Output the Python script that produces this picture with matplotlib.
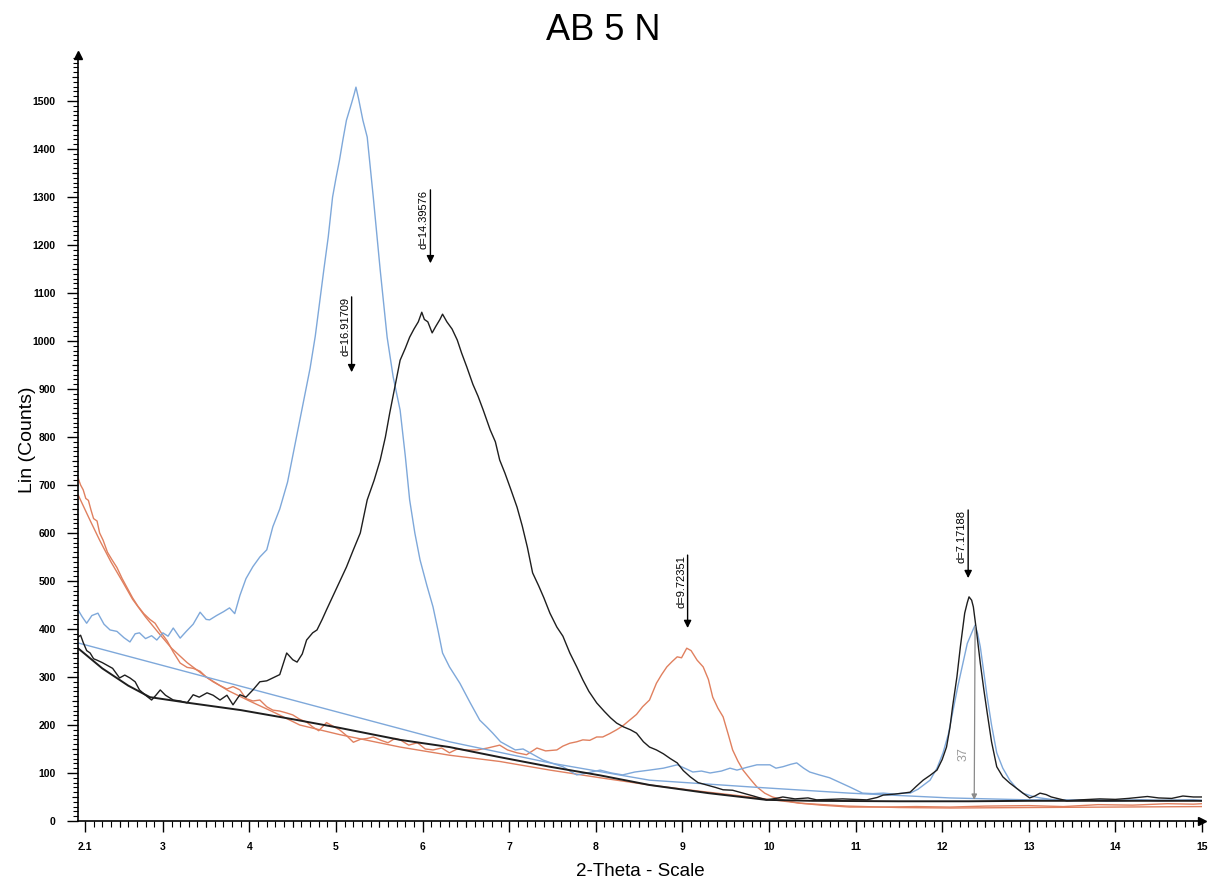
import matplotlib
matplotlib.use('Agg')
import matplotlib.pyplot as plt
import numpy as np

plt.rcParams['font.family'] = ['Liberation Sans', 'DejaVu Sans']

# sample scans (2-theta, counts)
blue_x = [2.02, 2.07, 2.12, 2.18, 2.25, 2.32, 2.39, 2.47, 2.55, 2.62,
          2.68, 2.73, 2.80, 2.87, 2.93, 3.00, 3.06, 3.12, 3.20, 3.27,
          3.35, 3.43, 3.50, 3.54, 3.62, 3.70, 3.77, 3.83, 3.89, 3.96,
          4.04, 4.12, 4.20, 4.27, 4.35, 4.44, 4.51, 4.58, 4.64, 4.70,
          4.76, 4.81, 4.86, 4.91, 4.96, 5.00, 5.04, 5.08, 5.12, 5.18,
          5.21, 5.23, 5.26, 5.31, 5.36, 5.43, 5.51, 5.59, 5.66, 5.74,
          5.80, 5.85, 5.91, 5.97, 6.05, 6.12, 6.18, 6.23, 6.31, 6.43,
          6.55, 6.66, 6.74, 6.81, 6.90, 6.97, 7.07, 7.16, 7.28, 7.39,
          7.50, 7.62, 7.70, 7.78, 7.90, 8.05, 8.18, 8.31, 8.45, 8.62,
          8.78, 8.94, 9.05, 9.12, 9.22, 9.32, 9.45, 9.55, 9.63, 9.75,
          9.86, 10.01, 10.08, 10.16, 10.25, 10.32, 10.40, 10.47, 10.58, 10.70,
          10.82, 10.93, 11.08, 11.20, 11.32, 11.45, 11.55, 11.63, 11.72, 11.86,
          11.94, 12.01, 12.07, 12.12, 12.18, 12.24, 12.29, 12.32, 12.36, 12.38,
          12.41, 12.44, 12.48, 12.52, 12.57, 12.63, 12.70, 12.78, 12.86, 12.93,
          13.03, 13.13, 13.3, 13.5, 13.7, 13.9, 14.1, 14.3, 14.5, 14.7,
          14.9, 15.0]
blue_y = [440, 425, 412, 428, 433, 410, 398, 395, 382, 373,
          390, 392, 380, 386, 377, 392, 385, 402, 381, 395,
          410, 435, 420, 419, 428, 436, 444, 432, 470, 505,
          530, 550, 565, 613, 650, 706, 770, 835, 890, 943,
          1010, 1080, 1150, 1217, 1300, 1340, 1377, 1420, 1460, 1496,
          1515, 1529, 1505, 1460, 1425, 1300, 1148, 1008, 925, 856,
          760, 669, 600, 544, 490, 446, 395, 350, 321, 287,
          246, 210, 196, 183, 165, 158, 148, 150, 138, 127,
          120, 113, 104, 96, 100, 106, 100, 96, 102, 106,
          110, 117, 108, 102, 104, 100, 104, 110, 106, 112,
          117, 117, 110, 113, 118, 121, 110, 102, 96, 90,
          80, 71, 58, 57, 58, 56, 58, 58, 66, 85,
          110, 142, 180, 225, 280, 329, 370, 383, 400, 408,
          390, 363, 310, 258, 200, 142, 110, 85, 68, 58,
          52, 48, 44, 42, 43, 41, 42, 44, 42, 43,
          44, 42]

black_x = [2.02, 2.05, 2.08, 2.12, 2.16, 2.20, 2.24, 2.30, 2.35, 2.42,
           2.50, 2.56, 2.62, 2.68, 2.73, 2.80, 2.87, 2.92, 2.97, 3.03,
           3.12, 3.20, 3.28, 3.35, 3.42, 3.51, 3.58, 3.66, 3.74, 3.81,
           3.89, 3.96, 4.04, 4.12, 4.20, 4.27, 4.35, 4.43, 4.50, 4.55,
           4.61, 4.66, 4.73, 4.78, 4.84, 4.89, 4.96, 5.04, 5.12, 5.20,
           5.28, 5.36, 5.44, 5.51, 5.57, 5.62, 5.68, 5.74, 5.80, 5.85,
           5.90, 5.95, 5.99, 6.02, 6.06, 6.11, 6.15, 6.20, 6.23, 6.28,
           6.34, 6.40, 6.45, 6.51, 6.58, 6.64, 6.70, 6.78, 6.84, 6.89,
           6.95, 7.02, 7.09, 7.15, 7.21, 7.27, 7.34, 7.40, 7.47, 7.55,
           7.62, 7.70, 7.78, 7.85, 7.92, 8.01, 8.10, 8.17, 8.24, 8.32,
           8.40, 8.47, 8.55, 8.62, 8.70, 8.78, 8.86, 8.94, 9.01, 9.09,
           9.18, 9.28, 9.38, 9.47, 9.58, 9.70, 9.82, 9.97, 10.08, 10.16,
           10.30, 10.45, 10.55, 10.70, 10.85, 11.00, 11.13, 11.25, 11.32, 11.45,
           11.55, 11.63, 11.70, 11.78, 11.86, 11.94, 12.00, 12.05, 12.09, 12.12,
           12.17, 12.21, 12.24, 12.26, 12.29, 12.31, 12.34, 12.36, 12.40, 12.44,
           12.48, 12.52, 12.57, 12.63, 12.70, 12.78, 12.86, 12.94, 13.01, 13.07,
           13.13, 13.20, 13.26, 13.35, 13.44, 13.60, 13.82, 14.00, 14.15, 14.37,
           14.50, 14.65, 14.78, 14.90, 15.00]
black_y = [383, 387, 372, 355, 350, 338, 335, 330, 325, 318,
           298, 304, 298, 290, 273, 262, 252, 262, 273, 262,
           252, 250, 246, 263, 258, 267, 262, 252, 262, 242,
           263, 258, 273, 290, 292, 298, 305, 350, 336, 331,
           348, 377, 392, 398, 420, 440, 467, 498, 529, 565,
           600, 669, 710, 752, 800, 850, 905, 960, 985, 1008,
           1025, 1040, 1060, 1045, 1040, 1017, 1030, 1045, 1056, 1040,
           1025, 1002, 975, 946, 910, 885, 856, 815, 790, 752,
           725, 690, 654, 615, 570, 517, 490, 465, 433, 404,
           385, 350, 321, 294, 270, 246, 228, 215, 204, 196,
           190, 183, 165, 154, 148, 140, 130, 121, 105, 92,
           80, 75, 70, 65, 64, 58, 52, 44, 47, 50,
           46, 48, 44, 45, 46, 45, 44, 49, 54, 56,
           58, 60, 72, 85, 95, 106, 128, 154, 195, 238,
           300, 363, 405, 433, 455, 467, 460, 446, 390, 329,
           275, 225, 165, 113, 92, 79, 68, 57, 48, 52,
           58, 55, 50, 46, 42, 44, 46, 45, 47, 51,
           48, 47, 52, 50, 50]

orange_x = [2.02, 2.05, 2.08, 2.11, 2.14, 2.17, 2.20, 2.24, 2.27, 2.31,
            2.36, 2.41, 2.47, 2.53, 2.59, 2.65, 2.71, 2.78, 2.85, 2.91,
            2.97, 3.05, 3.12, 3.20, 3.28, 3.35, 3.43, 3.50, 3.58, 3.66,
            3.74, 3.81, 3.89, 3.96, 4.04, 4.12, 4.20, 4.27, 4.35, 4.43,
            4.50, 4.58, 4.66, 4.73, 4.80, 4.89, 4.96, 5.04, 5.12, 5.20,
            5.28, 5.36, 5.43, 5.52, 5.60, 5.68, 5.74, 5.84, 5.94, 6.03,
            6.12, 6.22, 6.31, 6.40, 6.51, 6.63, 6.75, 6.89, 6.98, 7.09,
            7.20, 7.32, 7.42, 7.55, 7.62, 7.70, 7.78, 7.85, 7.93, 8.01,
            8.08, 8.16, 8.24, 8.31, 8.39, 8.47, 8.54, 8.62, 8.70, 8.76,
            8.82, 8.88, 8.94, 8.99, 9.05, 9.10, 9.17, 9.24, 9.30, 9.35,
            9.41, 9.47, 9.53, 9.58, 9.64, 9.70, 9.78, 9.86, 9.95, 10.04,
            10.20, 10.36, 10.60, 10.93, 11.3, 11.7, 12.09, 12.5, 13.0, 13.4,
            13.8, 14.2, 14.6, 14.9, 15.0]
orange_y = [715, 700, 690, 672, 668, 648, 630, 625, 600, 585,
            560, 545, 528, 505, 485, 465, 448, 432, 420, 412,
            395, 375, 352, 329, 320, 318, 312, 300, 290, 282,
            275, 280, 273, 255, 250, 252, 238, 231, 229, 225,
            221, 212, 206, 196, 188, 205, 198, 190, 178, 164,
            170, 172, 175, 168, 163, 172, 169, 158, 163, 150,
            148, 152, 142, 150, 148, 148, 152, 158, 148, 142,
            138, 152, 146, 148, 156, 162, 165, 169, 168, 175,
            175, 182, 190, 198, 210, 222, 238, 252, 287, 305,
            321, 332, 342, 340, 360, 355, 335, 321, 295, 258,
            235, 217, 180, 148, 125, 106, 88, 71, 58, 50,
            42, 37, 33, 29, 29, 30, 29, 31, 32, 30,
            34, 33, 36, 35, 36]

# fitted backgrounds
blue_bg_x = [2.02, 4.58, 6.31, 7.47, 8.62, 9.78, 10.93, 12.09, 13.0, 15.0]
blue_bg_y = [371, 248, 165, 121, 85, 71, 58, 48, 44, 43]

black_bg_x = [2.02, 2.30, 2.60, 2.85, 3.30, 3.90, 4.50, 5.04, 5.74, 6.31,
              6.89, 7.47, 8.05, 8.62, 9.30, 9.97, 10.5, 11.5, 12.3, 13.0, 14.0, 15.0]
black_bg_y = [360, 318, 282, 258, 246, 231, 212, 194, 169, 154,
              133, 113, 95, 75, 58, 44, 42, 41, 41, 42, 42, 42]

orange_bg_x = [2.02, 2.15, 2.27, 2.40, 2.53, 2.65, 2.80, 2.95, 3.10, 3.28,
               3.50, 3.75, 4.00, 4.30, 4.58, 5.04, 5.74, 6.31, 6.89, 7.47,
               8.05, 8.62, 9.20, 9.78, 10.36, 10.9, 11.5, 12.1, 13.0, 14.0, 15.0]
orange_bg_y = [680, 630, 585, 540, 500, 462, 425, 392, 360, 330,
               300, 272, 250, 225, 200, 180, 154, 137, 124, 106,
               90, 75, 62, 50, 37, 31, 28, 27, 28, 29, 30]

# d-spacing markers
peak_x = [5.18, 6.09, 9.06, 12.30]
peak_top = [1092, 1315, 554, 648]
peak_tip = [935, 1162, 402, 506]
peak_labels = ['d=16.91709', 'd=14.39576', 'd=9.72351', 'd=7.17188']

xtick_vals = [2.1, 3, 4, 5, 6, 7, 8, 9, 10, 11, 12, 13, 14, 15]
xtick_labels = ['2.1', '3', '4', '5', '6', '7', '8', '9', '10', '11', '12', '13', '14', '15']

blue = '#7ea8da'
orange = '#e0805f'
black = '#1e1e1e'

fig = plt.figure(figsize=(12.13, 8.84), dpi=100)
ax = fig.add_axes([0.0643, 0.0713, 0.9266, 0.8665])

ax.plot(orange_bg_x, orange_bg_y, color=orange, lw=1.0)
ax.plot(orange_x, orange_y, color=orange, lw=1.0)
ax.plot(blue_bg_x, blue_bg_y, color=blue, lw=1.0)
ax.plot(blue_x, blue_y, color=blue, lw=1.0)
ax.plot(black_bg_x, black_bg_y, color=black, lw=1.4)
ax.plot(black_x, black_y, color=black, lw=1.0)

for x, top, tip, lab in zip(peak_x, peak_top, peak_tip, peak_labels):
    ax.annotate('', xy=(x, tip), xytext=(x, top),
                arrowprops=dict(arrowstyle='-|>', color='black', lw=1.0,
                                mutation_scale=11, shrinkA=0, shrinkB=0))
    ax.text(x - 0.075, top, lab, rotation=90, ha='center', va='top', fontsize=8)

# pencil mark on the 12.4 peak
ax.annotate('', xy=(12.37, 44), xytext=(12.38, 405),
            arrowprops=dict(arrowstyle='-|>', color='#8a8a8a', lw=0.9,
                            mutation_scale=8, shrinkA=0, shrinkB=0))
ax.text(12.25, 140, '37', rotation=90, ha='center', va='center',
        fontsize=9, color='#9a9a9a')

ax.set_xlim(2.02, 15.0)
ax.set_ylim(0, 1596)

for s in ['top', 'right']:
    ax.spines[s].set_visible(False)
for s in ['left', 'bottom']:
    ax.spines[s].set_linewidth(1.2)

ax.set_xticks(xtick_vals)
ax.set_xticklabels(xtick_labels)
ax.set_xticks(np.arange(2.1, 15.01, 0.1), minor=True)
ax.set_yticks(np.arange(0, 1501, 100))
ax.set_yticks(np.arange(0, 1591, 10), minor=True)
ax.tick_params(axis='x', which='major', direction='out', length=8, width=1, pad=7,
               labelsize=7.5)
ax.tick_params(axis='x', which='minor', direction='out', length=4, width=0.8)
ax.tick_params(axis='y', which='major', direction='out', length=8, width=1, pad=8,
               labelsize=7.5)
ax.tick_params(axis='y', which='minor', direction='out', length=3.5, width=0.8)
for lab in ax.get_xticklabels() + ax.get_yticklabels():
    lab.set_fontweight('bold')

# half-step ticks are a bit longer
halves = np.arange(2.5, 15, 1.0)
ax.vlines(halves, -0.0085, 0, transform=ax.get_xaxis_transform(),
          color='black', lw=0.8, clip_on=False)
ax.hlines(np.arange(50, 1600, 100), -0.0055, 0, transform=ax.get_yaxis_transform(),
          color='black', lw=0.8, clip_on=False)

# arrow heads on the axes
ax.plot([0], [1], marker='^', color='black', markersize=6,
        transform=ax.transAxes, clip_on=False)
ax.plot([1], [0], marker='>', color='black', markersize=6,
        transform=ax.transAxes, clip_on=False)

fig.text(0.497, 0.966, 'AB 5 N', ha='center', va='center', fontsize=26)
fig.text(27 / 1213, 1 - 440 / 884, 'Lin (Counts)', rotation=90,
         ha='center', va='center', fontsize=14)
fig.text(640 / 1213, 1 - 871 / 884, '2-Theta - Scale', ha='center', va='center',
         fontsize=13.5)

fig.savefig('out.png', dpi=100)
